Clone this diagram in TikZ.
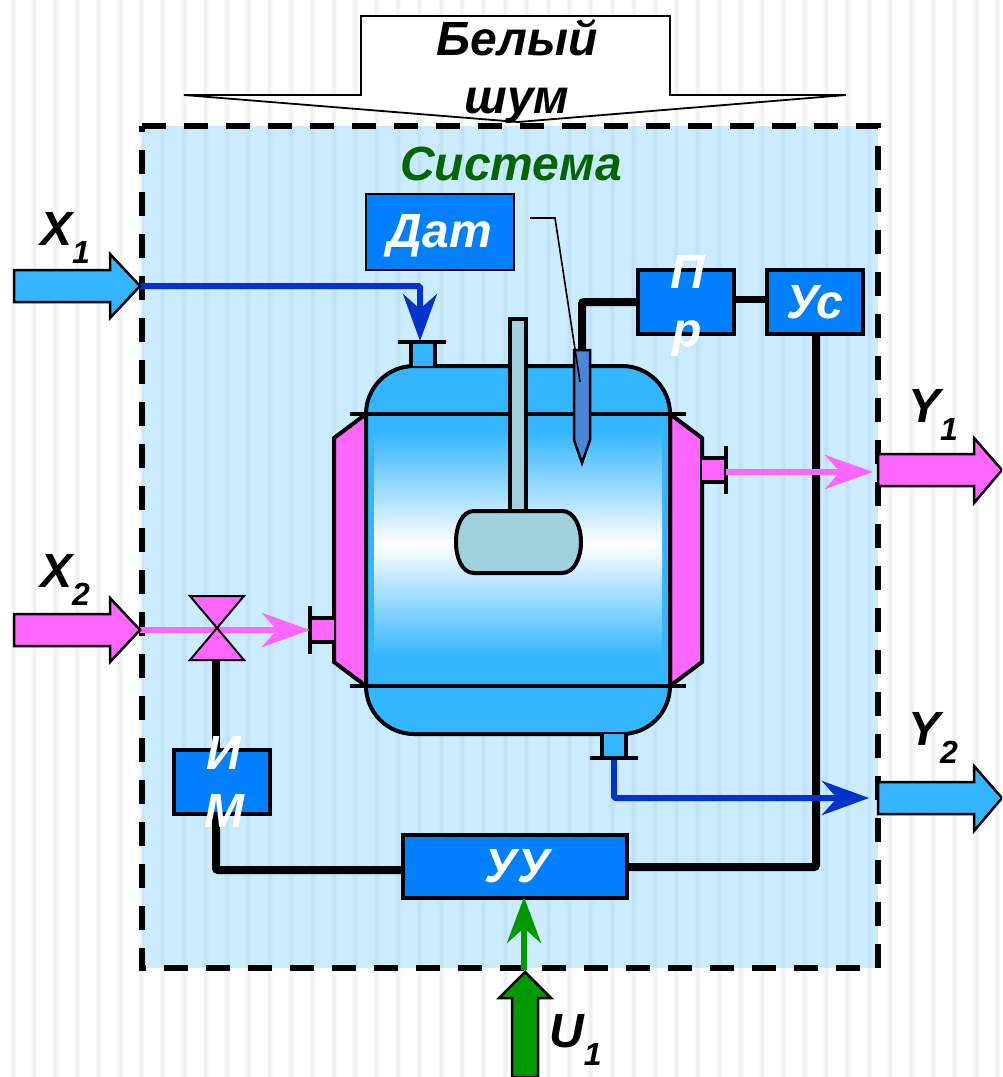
\documentclass[tikz,border=0pt]{standalone}
\usepackage{fontspec}
\setmainfont{Liberation Sans}
\usetikzlibrary{arrows.meta}
\definecolor{sysblue}{HTML}{CBEBFF}
\definecolor{sysstripe}{HTML}{C1E3F7}
\definecolor{sysstripesoft}{HTML}{C7E8FC}
\definecolor{whitestripe}{HTML}{F2F2F2}
\definecolor{whitestripesoft}{HTML}{F9F9F9}
\definecolor{lightb}{HTML}{33B5FF}
\definecolor{boxb}{HTML}{0080FF}
\definecolor{pinkc}{HTML}{FF66FF}
\definecolor{flowb}{HTML}{0033CC}
\definecolor{greenc}{HTML}{009900}
\definecolor{shaftc}{HTML}{A0D0DC}
\definecolor{sensorc}{HTML}{4A86D8}
\definecolor{sysgreen}{HTML}{006600}
\newcommand{\biglab}[2]{#1\raisebox{-18pt}{\fontsize{32}{32}\selectfont #2}}
\tikzset{
  x=1pt,y=-1pt,
  bigtext/.style={font=\fontsize{48}{58}\selectfont\bfseries\itshape,inner sep=0pt,align=center},
  unit/.style={draw=black,line width=4pt,fill=boxb,inner sep=0pt,text=white,font=\fontsize{48}{58}\selectfont\bfseries\itshape},
  ext/.style={draw=black,line width=2.5pt,miter limit=10},
  vessel/.style={draw=black,line width=4pt},
  signal/.style={draw=black,line width=8pt,rounded corners=2pt},
  pinkflow/.style={draw=pinkc,line width=6pt,-{Stealth[length=48pt,width=34pt,inset=15pt,fill=pinkc]}},
  blueflow/.style={draw=flowb,line width=6pt,rounded corners=1.5pt,-{Stealth[length=47pt,width=34pt,inset=15pt,fill=flowb]}},
  greenflow/.style={draw=greenc,line width=6pt,-{Stealth[length=46pt,width=34pt,inset=15pt,fill=greenc]}}
}
\begin{document}
\begin{tikzpicture}
\useasboundingbox (0,0) rectangle (1002,1077);
\clip (0,0) rectangle (1002,1077);
\fill[white] (0,0) rectangle (1002,1077);
\foreach \i in {0,...,46}{
  \fill[whitestripesoft] ({13+21.4*\i-3},0) rectangle ({13+21.4*\i+3},1077);
  \fill[whitestripe] ({13+21.4*\i-1.5},0) rectangle ({13+21.4*\i+1.5},1077);
}
% system area
\fill[sysblue] (142,126) rectangle (878,968);
\begin{scope}
\clip (142,126) rectangle (878,968);
\foreach \i in {0,...,46}{
  \fill[sysstripesoft] ({13+21.4*\i-3},126) rectangle ({13+21.4*\i+3},968);
  \fill[sysstripe] ({13+21.4*\i-1.5},126) rectangle ({13+21.4*\i+1.5},968);
}
\end{scope}
\draw[line width=6pt,dash pattern=on 24pt off 18pt] (142,126) -- (878,126) -- (878,968) -- (142,968) -- cycle;
% white noise arrow
\draw[draw=black,line width=1.8pt,fill=white,miter limit=20] (361,16) -- (670,16) -- (670,95) -- (846,95) -- (518,122) -- (184,95) -- (361,95) -- cycle;
\node[bigtext] (noise) at (517,72) {Белый\\шум};
\node[bigtext,text=sysgreen] (sys) at (511,164) {Система};

% named points
\coordinate (x1tip) at (140,286);
\coordinate (x2tip) at (140,630);
\coordinate (topnoz) at (420,341);
\coordinate (leftnoz) at (310,630);
\coordinate (rightnoz) at (726,472);
\coordinate (botnoz) at (614,760);
\coordinate (y1in) at (873,472);
\coordinate (y2in) at (869,798);
\coordinate (u1tip) at (524,970);

% control units
\node[unit,line width=2.5pt,minimum width=148pt,minimum height=76pt] (dat) at (440,232) {};
\node[unit,minimum width=96pt,minimum height=64pt] (pr) at (686,302) {};
\node[unit,minimum width=96pt,minimum height=64pt] (us) at (814.5,302) {Ус};
\node[unit,minimum width=224pt,minimum height=63pt] (uu) at (514.5,866) {\hspace*{6pt}УУ};
\node[unit,minimum width=96pt,minimum height=64pt] (im) at (222,782) {};
\coordinate (sens) at (582,350);
\coordinate (valve) at (216,660);

% signal lines
\draw[signal] (sens) |- (pr.west);
\draw[signal,line width=7pt] ([yshift=3pt]pr.east) -- ([yshift=3pt]us.west);
\draw[signal] (816,335) -- (816,867) -- (627,867);
\draw[signal] (216,815) -- (216,870) -- (402,870);
\draw[signal] (valve) -- (216,749);

% vessel
\filldraw[vessel,fill=pinkc] (366,414) -- (334,438) -- (334,662) -- (366,686) -- cycle;
\filldraw[vessel,fill=pinkc] (670,414) -- (702,438) -- (702,662) -- (670,686) -- cycle;
\filldraw[vessel,fill=lightb,rounded corners=48pt] (366,366) rectangle (670,734);
\shade[top color=lightb,bottom color=lightb,middle color=white] (374,431) rectangle (662,657);
\draw[vessel] (350,414) -- (686,414);
\draw[vessel] (350,686) -- (686,686);

% nozzles
\filldraw[vessel,fill=lightb] (411,366) -- (411,342) -- (435,342) -- (435,366);
\draw[vessel] (398,342) -- (446,342);
\filldraw[vessel,fill=lightb] (602,734) -- (602,758) -- (626,758) -- (626,734);
\draw[vessel] (590,758) -- (638,758);
\filldraw[vessel,fill=pinkc] (334,618) -- (310,618) -- (310,642) -- (334,642);
\draw[vessel] (310,606) -- (310,654);
\filldraw[vessel,fill=pinkc] (702,458) -- (726,458) -- (726,482) -- (702,482);
\draw[vessel] (726,446) -- (726,494);

% stirrer
\filldraw[vessel,fill=shaftc] (510,511) -- (510,319) -- (526,319) -- (526,511);
\filldraw[vessel,fill=shaftc] (474,511) -- (562,511) .. controls (574,511) and (581,526) .. (581,542) .. controls (581,558) and (574,573) .. (562,573) -- (474,573) .. controls (462,573) and (456,558) .. (456,542) .. controls (456,526) and (462,511) .. (474,511) -- cycle;

% sensor
\filldraw[draw=black,line width=2.5pt,fill=sensorc] (574,350) -- (590,350) -- (590,440) -- (582,463) -- (574,440) -- cycle;
\draw[line width=1.6pt] (530,218) -- (555,218) -- (580,382);

% flows
\draw[blueflow] (x1tip) -| (topnoz);
\draw[blueflow] (botnoz) |- (y2in);
\draw[pinkflow] (x2tip) -- (leftnoz);
\draw[pinkflow] (rightnoz) -- (y1in);
\draw[greenflow] (u1tip) -- (524,897);

% valve
\draw[draw=black,line width=2pt,fill=pinkc] (190,596) -- (244,596) -- (217,628) -- cycle;
\draw[draw=black,line width=2pt,fill=pinkc] (190,660) -- (244,660) -- (217,628) -- cycle;
\draw[draw=pinkc,line width=6pt] (191,630) -- (212,630);
\draw[draw=pinkc,line width=6pt] (222,630) -- (243,630);

% external arrows
\filldraw[ext,fill=lightb] (14,270) -- (110,270) -- (110,254) -- (x1tip) -- (110,318) -- (110,302) -- (14,302) -- cycle;
\filldraw[ext,fill=pinkc] (14,614) -- (110,614) -- (110,598) -- (x2tip) -- (110,662) -- (110,646) -- (14,646) -- cycle;
\filldraw[ext,fill=pinkc] (878,454) -- (974,454) -- (974,438) -- (1002,470) -- (974,503) -- (974,486) -- (878,486) -- cycle;
\filldraw[ext,fill=lightb] (878,782) -- (974,782) -- (974,766) -- (1002,798) -- (974,831) -- (974,814) -- (878,814) -- cycle;
\filldraw[ext,fill=greenc] (512,1077) -- (512,998) -- (499,998) -- (525,972) -- (551,998) -- (538,998) -- (538,1077) -- cycle;

% texts over units
\node[bigtext,text=white] (dattext) at (440,236) {Дат};
\node[bigtext,text=white] (prtext) at (687.5,306) {П\\р};
\node[bigtext,text=white] (imtext) at (224,782) {И\\М};

% labels
\node[bigtext,anchor=base west] (x1lab) at (40,245) {\biglab{X}{1}};
\node[bigtext,anchor=base west] (x2lab) at (40,587) {\biglab{X}{2}};
\node[bigtext,anchor=base west] (y1lab) at (908,422) {\biglab{Y}{1}};
\node[bigtext,anchor=base west] (y2lab) at (908,745) {\biglab{Y}{2}};
\node[bigtext,anchor=base west] (u1lab) at (549,1047) {\biglab{U}{1}};
\end{tikzpicture}
\end{document}
